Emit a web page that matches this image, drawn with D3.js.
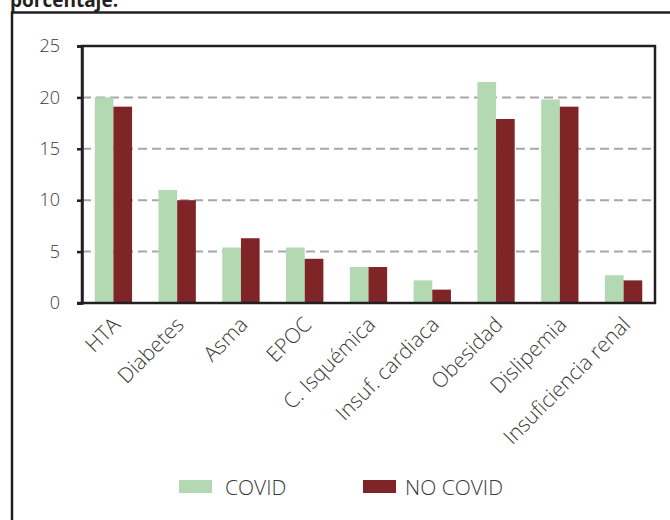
<!DOCTYPE html>
<html>
<head>
<meta charset="utf-8">
<script src="https://cdn.jsdelivr.net/npm/d3@7"></script>
<style>
  body { margin: 0; background: #fff; }
  svg text { font-family: "Open Sans", "Noto Sans", sans-serif; fill: #3a3a3a; }
</style>
</head>
<body>
<div id="chart"></div>
<script>
// chart data
var categories = ["HTA", "Diabetes", "Asma", "EPOC", "C. Isquémica", "Insuf. cardiaca", "Obesidad", "Dislipemia", "Insuficiencia renal"];
var covid = [20.0, 11.0, 5.4, 5.4, 3.5, 2.2, 21.5, 19.8, 2.7];
var noCovid = [19.1, 10.0, 6.3, 4.3, 3.5, 1.3, 17.9, 19.1, 2.2];
var seriesNames = ["COVID", "NO COVID"];
var yTicks = [0, 5, 10, 15, 20, 25];

var width = 670, height = 520;
var colors = ["#b3d9b2", "#7f2427"];

var svg = d3.select("#chart").append("svg")
    .attr("width", width)
    .attr("height", height);

// caption above the frame, cut off at the top like the source
svg.append("text")
    .attr("x", 10)
    .attr("y", 7)
    .style("font-weight", "bold")
    .style("font-size", "19px")
    .style("fill", "#231f20")
    .text("porcentaje.");

// outer frame (runs off the right and bottom edge)
svg.append("rect")
    .attr("x", 12)
    .attr("y", 12.5)
    .attr("width", 700)
    .attr("height", 560)
    .attr("fill", "none")
    .attr("stroke", "#231f20")
    .attr("stroke-width", 2.5);

var plot = { left: 82, right: 655, top: 46, bottom: 303 };

var x = d3.scaleBand()
    .domain(categories)
    .range([plot.left, plot.right])
    .paddingInner(0.415)
    .paddingOuter(0.2);

var xSub = d3.scaleBand()
    .domain(seriesNames)
    .range([0, x.bandwidth()]);

var y = d3.scaleLinear()
    .domain([0, 25])
    .range([plot.bottom, plot.top]);

// dashed grid lines
svg.append("g")
    .selectAll("line")
    .data(yTicks.filter(function (d) { return d > 0 && d < 25; }))
    .enter()
    .append("line")
    .attr("x1", plot.left)
    .attr("x2", plot.right)
    .attr("y1", function (d) { return y(d); })
    .attr("y2", function (d) { return y(d); })
    .attr("stroke", "#a7a7aa")
    .attr("stroke-width", 2)
    .attr("stroke-dasharray", "9,5");

// bars
var rows = categories.map(function (c, i) { return { cat: c, vals: [covid[i], noCovid[i]] }; });
var groups = svg.append("g")
    .selectAll("g")
    .data(rows)
    .enter()
    .append("g")
    .attr("transform", function (d) { return "translate(" + x(d.cat) + ",0)"; });

groups.selectAll("rect")
    .data(function (d) { return d.vals.map(function (v, j) { return { name: seriesNames[j], v: v, j: j }; }); })
    .enter()
    .append("rect")
    .attr("x", function (d) { return xSub(d.name); })
    .attr("width", xSub.bandwidth())
    .attr("y", function (d) { return y(d.v); })
    .attr("height", function (d) { return plot.bottom - y(d.v); })
    .attr("fill", function (d) { return colors[d.j]; });

// y axis
var yAxis = svg.append("g")
    .attr("transform", "translate(" + plot.left + ",0)")
    .call(d3.axisLeft(y).tickValues(yTicks).tickSize(5).tickPadding(17));
yAxis.select(".domain").attr("stroke", "#231f20").attr("stroke-width", 2.5);
yAxis.selectAll(".tick line").attr("stroke", "#231f20").attr("stroke-width", 2.5);
yAxis.selectAll(".tick text")
    .style("font-size", "18px")
    .style("font-weight", "300")
    .style("fill", "#3a3a3a");

// x axis
var xAxis = svg.append("g")
    .attr("transform", "translate(0," + plot.bottom + ")")
    .call(d3.axisBottom(x).tickSize(0).tickPadding(0));
xAxis.select(".domain").remove();
xAxis.selectAll(".tick text")
    .style("font-size", "21px")
    .style("font-weight", "300")
    .style("fill", "#3a3a3a")
    .attr("text-anchor", "end")
    .attr("dy", 0)
    .attr("transform", "translate(8,23) rotate(-45)");

// plot box on top of bars
svg.append("rect")
    .attr("x", plot.left)
    .attr("y", plot.top)
    .attr("width", plot.right - plot.left)
    .attr("height", plot.bottom - plot.top)
    .attr("fill", "none")
    .attr("stroke", "#231f20")
    .attr("stroke-width", 2.5);
svg.append("line")
    .attr("x1", plot.left - 5).attr("x2", plot.left)
    .attr("y1", plot.bottom).attr("y2", plot.bottom)
    .attr("stroke", "#231f20").attr("stroke-width", 2.5);

// legend
var legend = svg.append("g")
    .selectAll("g")
    .data(seriesNames)
    .enter()
    .append("g")
    .attr("transform", function (d, i) { return "translate(" + (179 + i * 184) + ",480)"; });
legend.append("rect")
    .attr("width", 33)
    .attr("height", 13)
    .attr("fill", function (d, i) { return colors[i]; });
legend.append("text")
    .attr("x", function (d, i) { return i === 0 ? 46 : 42; })
    .attr("y", 15)
    .style("font-size", "21px")
    .style("font-weight", "300")
    .text(function (d) { return d; });
</script>
</body>
</html>
